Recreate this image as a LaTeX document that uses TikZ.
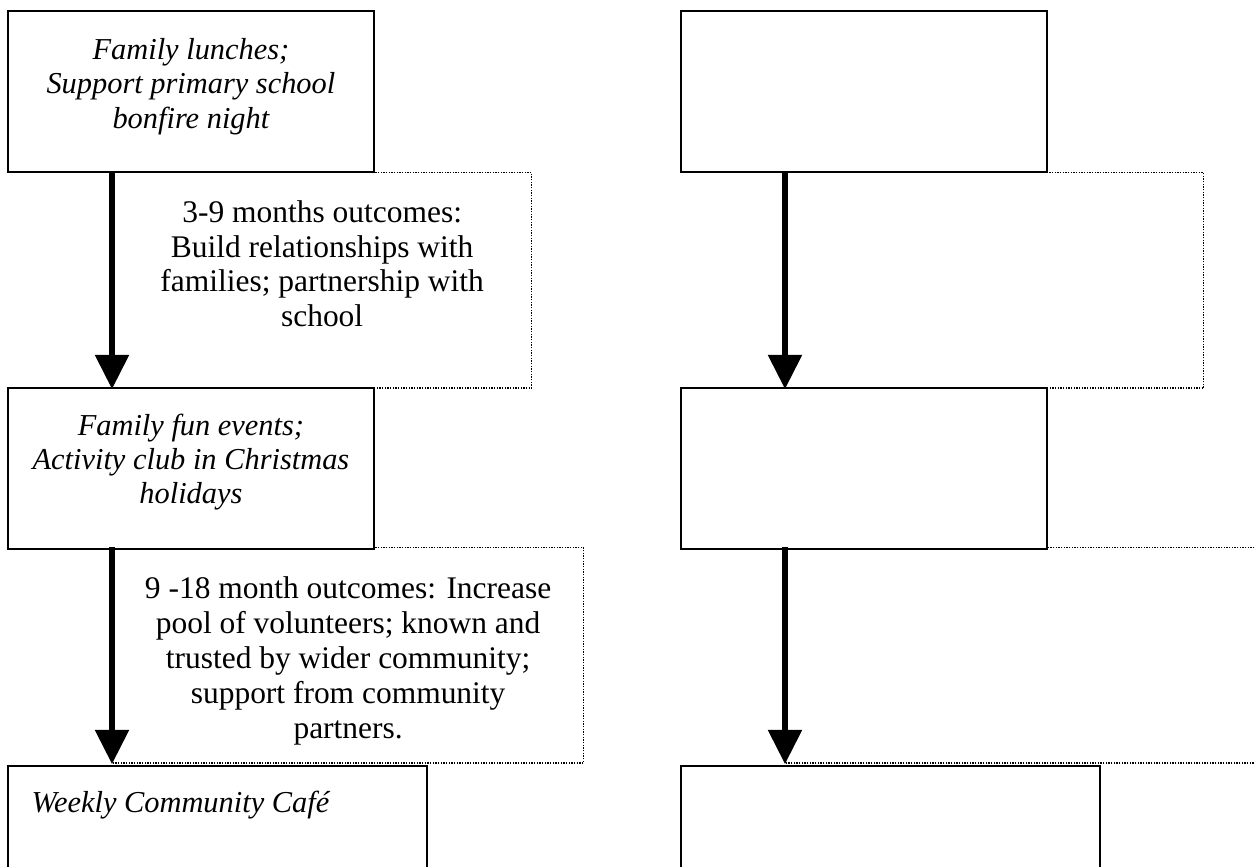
\documentclass[tikz,border=0pt]{standalone}
\usepackage{fontspec}
\setmainfont{Liberation Serif}
\usepackage{tikz}
\usetikzlibrary{arrows.meta,positioning}

\begin{document}
\begin{tikzpicture}[
                    x=0.375pt, y=-0.375pt,
                    >={Triangle[length=12.75pt, width=13pt, line width=0pt]},
                    actbox/.style={draw, line width=0.7pt, fill=white, anchor=north west, inner sep=0pt, minimum width=137.25pt, minimum height=60.5pt},
                    outbox/.style={draw, black, line width=0.5pt, dash pattern=on 0.5pt off 0.5pt, anchor=north west, inner sep=0pt, minimum height=80.8pt},
                    acttext/.style={inner sep=0pt, align=center, font=\fontsize{11.4pt}{12.9pt}\selectfont\itshape},
                    outtext/.style={inner sep=0pt, align=center, font=\fontsize{11.8pt}{13.1pt}\selectfont},
                    flow/.style={->, line width=2.6pt}
            ]
                \useasboundingbox (0,0) rectangle (1255,867);
                \clip (0,0) rectangle (1255,867);

                % outcome boxes go first, the activity boxes sit on top of them
                \node [outbox, minimum width=157.1pt] (o1) at (112,172) {};
                \node [outbox, minimum width=176.6pt] (o2) at (112,547) {};
                \node [outbox, minimum width=156.8pt] (ro1) at (785,172) {};
                \node [outbox, minimum width=180pt] (ro2) at (785,547) {};

                \node [actbox] (a1) at (7,10) {};
                \node [actbox] (a2) at (7,387) {};
                \node [actbox, minimum width=157.1pt, minimum height=50pt] (a3) at (7,765) {};
                \node [actbox] (ra1) at (680,10) {};
                \node [actbox] (ra2) at (680,387) {};
                \node [actbox, minimum width=157.1pt, minimum height=50pt] (ra3) at (680,765) {};

                \node [acttext, below=10.4pt of a1.north] (t1) {Family lunches;\\Support primary school\\bonfire night};
                \node [acttext, below=9.8pt of a2.north] (t2) {Family fun events;\\Activity club in Christmas\\holidays};
                \node [acttext, below right=9.5pt and 9pt of a3.north west] (t3) {Weekly Community Café};
                \node [outtext, below=10.4pt of o1.north] (u1) {3-9 months outcomes:\\Build relationships with\\families; partnership with\\school};
                \node [outtext, below=11.1pt of o2.north] (u2) {9 -18 month outcomes: Increase\\pool of volunteers; known and\\trusted by wider community;\\support from community\\partners.};

                \draw [flow] (o1.north west) -- (o1.south west);
                \draw [flow] (o2.north west) -- (o2.south west);
                \draw [flow] (ro1.north west) -- (ro1.south west);
                \draw [flow] (ro2.north west) -- (ro2.south west);
            \end{tikzpicture}
\end{document}
